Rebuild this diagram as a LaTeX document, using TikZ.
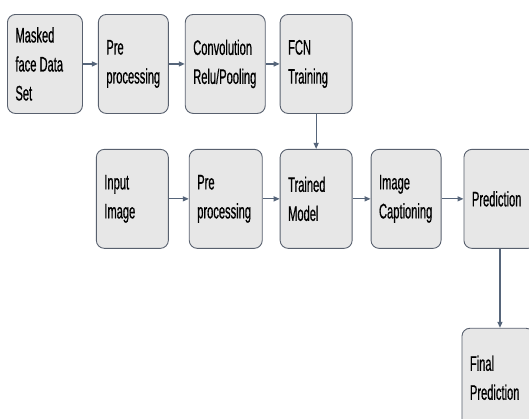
\documentclass[tikz,border=0pt]{standalone}
\usepackage{fontspec}
\newfontfamily\boxfont{Liberation Sans}[FakeStretch=0.53, FakeBold=0.6]
\usetikzlibrary{arrows.meta,positioning}
\definecolor{boxedge}{HTML}{58606E}
\definecolor{boxfill}{HTML}{E7E7E7}
\definecolor{arrowcol}{HTML}{56657A}
\newcommand{\stagefont}{\boxfont\fontsize{21}{29}\selectfont}

\begin{document}
\begin{tikzpicture}[
    x=1pt, y=1pt,
    node distance=15pt and 15pt,
    stage/.style={rectangle, rounded corners=8pt, draw=boxedge, fill=boxfill,
                 line width=0.9pt, minimum height=99pt, inner xsep=8pt,
                 font=\stagefont, align=flush left},
    arr/.style={-{Triangle[length=6pt,width=5pt]}, line width=1.2pt, arrowcol},
  ]
  \useasboundingbox (0,0) rectangle (529,-418);
  \clip (0,0) rectangle (529,-418);

  \node[stage, anchor=north west, text width=59pt] (masked) at (7,-14) {Masked\\face Data\\Set};
  \node[stage, right=15pt of masked, text width=54pt] (pre1) {Pre\\processing};
  \node[stage, right=16pt of pre1, text width=64pt] (conv) {Convolution\\Relu/Pooling};
  \node[stage, right=14pt of conv, text width=56pt] (fcn) {FCN\\Training};

  \node[stage, below=35pt of fcn, text width=56pt] (trained) {Trained\\Model};
  \node[stage, left=17pt of trained, text width=57pt] (pre2) {Pre\\processing};
  \node[stage, left=20pt of pre2, text width=56pt] (input) {Input\\Image};
  \node[stage, right=18pt of trained, text width=54pt] (caption) {Image\\Captioning};
  \node[stage, right=22pt of caption, text width=56pt] (predict) {Prediction};

  \node[stage, below=79pt of predict, xshift=-2pt, text width=56pt] (final) {Final\\Prediction};

  \draw[arr] (masked) -- (pre1);
  \draw[arr] (pre1) -- (conv);
  \draw[arr] (conv) -- (fcn);
  \draw[arr] (fcn) -- (trained);
  \draw[arr] (input) -- (pre2);
  \draw[arr] (pre2) -- (trained);
  \draw[arr] (trained) -- (caption);
  \draw[arr] (caption) -- (predict);
  \draw[arr] (predict.south) -- (predict.south |- final.north);
\end{tikzpicture}
\end{document}
